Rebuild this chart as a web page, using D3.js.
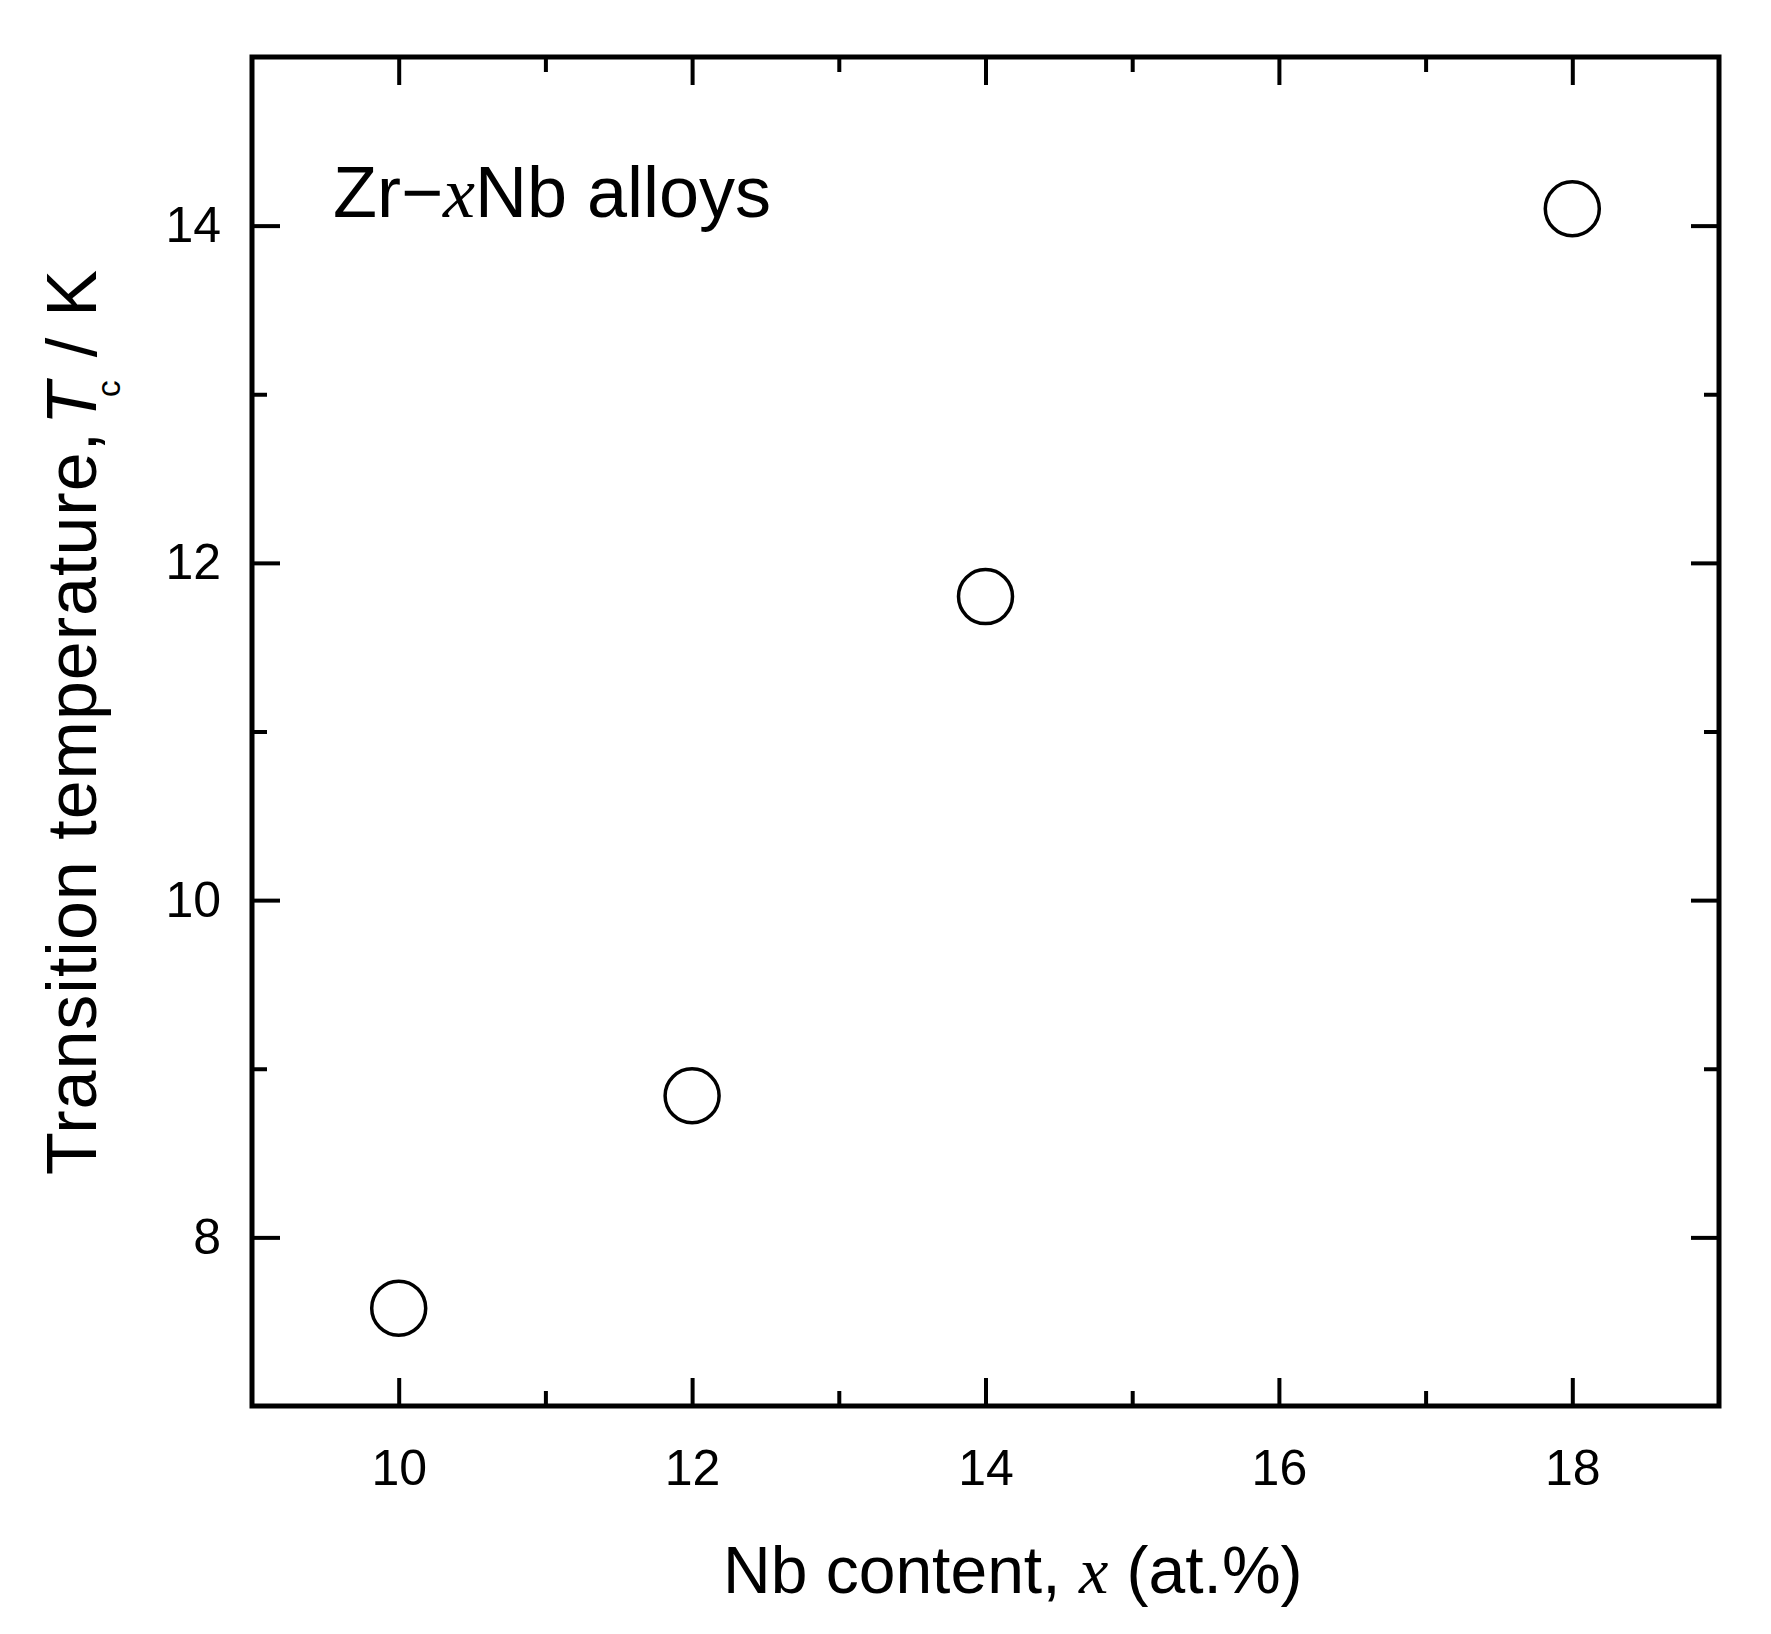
<!DOCTYPE html>
<html>
<head>
<meta charset="utf-8">
<script src="https://cdn.jsdelivr.net/npm/d3@7"></script>
<style>
  html, body { margin: 0; padding: 0; background: #fff; }
  svg { display: block; }
  .tick text { font-family: "Liberation Sans", Arial, sans-serif; font-size: 50px; fill: #000; }
  .lbl { font-family: "Liberation Sans", Arial, sans-serif; fill: #000; }
  .it { font-family: "Liberation Serif", "Times New Roman", serif; font-style: italic; }
  .its { font-style: italic; }
</style>
</head>
<body>
<div id="chart"></div>
<script>
// ---- data ----
const nbContent = [10, 12, 14, 18];          // x (at.%)
const tcValues = [7.58, 8.84, 11.80, 14.10];  // Tc (K)

const xMajorTicks = [10, 12, 14, 16, 18];
const xMinorTicks = [11, 13, 15, 17];
const yMajorTicks = [8, 10, 12, 14];
const yMinorTicks = [9, 11, 13];

const xDomain = [9, 19];
const yDomain = [7, 15];

// ---- layout ----
const W = 1771, H = 1634;
const margin = { top: 57, right: 52, bottom: 228, left: 252 };
const width = W - margin.left - margin.right;
const height = H - margin.top - margin.bottom;
const majorLen = 28, minorLen = 15;

const svg = d3.select("#chart").append("svg")
  .attr("width", W).attr("height", H);

const g = svg.append("g")
  .attr("transform", `translate(${margin.left},${margin.top})`);

const x = d3.scaleLinear().domain(xDomain).range([0, width]);
const y = d3.scaleLinear().domain(yDomain).range([height, 0]);

function styleAxis(sel) {
  sel.select(".domain").remove();
  sel.selectAll(".tick line").attr("stroke", "#000").attr("stroke-width", 4);
}

// bottom (with labels)
g.append("g").attr("transform", `translate(0,${height})`)
  .call(d3.axisBottom(x).tickValues(xMajorTicks).tickSize(-majorLen).tickPadding(43).tickFormat(d3.format("d")))
  .call(styleAxis);
g.append("g").attr("transform", `translate(0,${height})`)
  .call(d3.axisBottom(x).tickValues(xMinorTicks).tickSize(-minorLen).tickFormat(""))
  .call(styleAxis);
// top mirror
g.append("g")
  .call(d3.axisTop(x).tickValues(xMajorTicks).tickSize(-majorLen).tickFormat(""))
  .call(styleAxis);
g.append("g")
  .call(d3.axisTop(x).tickValues(xMinorTicks).tickSize(-minorLen).tickFormat(""))
  .call(styleAxis);
// left (with labels)
g.append("g")
  .call(d3.axisLeft(y).tickValues(yMajorTicks).tickSize(-majorLen).tickPadding(31).tickFormat(d3.format("d")))
  .call(styleAxis);
g.append("g")
  .call(d3.axisLeft(y).tickValues(yMinorTicks).tickSize(-minorLen).tickFormat(""))
  .call(styleAxis);
// right mirror
g.append("g").attr("transform", `translate(${width},0)`)
  .call(d3.axisRight(y).tickValues(yMajorTicks).tickSize(-majorLen).tickFormat(""))
  .call(styleAxis);
g.append("g").attr("transform", `translate(${width},0)`)
  .call(d3.axisRight(y).tickValues(yMinorTicks).tickSize(-minorLen).tickFormat(""))
  .call(styleAxis);

// frame
g.append("rect")
  .attr("x", 0).attr("y", 0).attr("width", width).attr("height", height)
  .attr("fill", "none").attr("stroke", "#000").attr("stroke-width", 5);

// points
g.selectAll("circle.pt")
  .data(nbContent.map((d, i) => ({ x: d, y: tcValues[i] })))
  .enter().append("circle")
  .attr("class", "pt")
  .attr("cx", d => x(d.x))
  .attr("cy", d => y(d.y))
  .attr("r", 27)
  .attr("fill", "none")
  .attr("stroke", "#000")
  .attr("stroke-width", 3.5);

// in-plot label
const note = svg.append("text").attr("class", "lbl")
  .attr("x", 333).attr("y", 217).style("font-size", "72px");
note.append("tspan").text("Zr\u2212");
note.append("tspan").attr("class", "it").text("x");
note.append("tspan").text("Nb alloys");

// x title
const xt = svg.append("text").attr("class", "lbl")
  .attr("x", 723).attr("y", 1593).style("font-size", "66px");
xt.append("tspan").text("Nb content, ");
xt.append("tspan").attr("class", "it").text("x");
xt.append("tspan").text(" (at.%)");

// y title
const yt = svg.append("text").attr("class", "lbl")
  .attr("transform", "translate(96,1175) rotate(-90)")
  .style("font-size", "70px")
  .style("letter-spacing", "1px");
yt.append("tspan").text("Transition temperature,");
yt.append("tspan").attr("class", "its").attr("dx", 6).text("T");
yt.append("tspan").attr("dy", 24).attr("dx", -16).style("font-size", "34px").text("c");
yt.append("tspan").attr("dy", -24).attr("dx", 22).text("/");
yt.append("tspan").attr("dx", 20).text("K");
</script>
</body>
</html>
